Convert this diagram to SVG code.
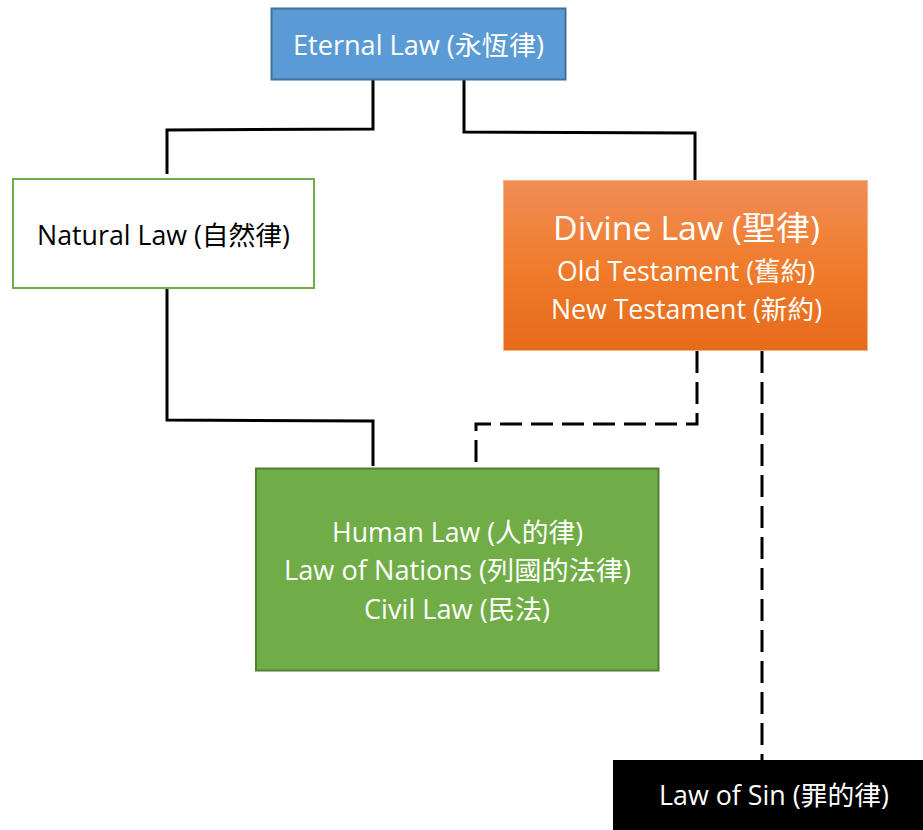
<svg xmlns="http://www.w3.org/2000/svg" width="923" height="830" viewBox="0 0 923 830">
<style>
text{font-family:"Open Sans","Noto Sans CJK TC",sans-serif;text-anchor:middle}
.w{fill:#ffffff}
.k{fill:#000000}
.s{font-size:26.5px}
.l{font-size:33.5px}
.c{fill:none;stroke:#000;stroke-width:3}
.d{stroke-dasharray:22 9}
</style>
<defs>
<linearGradient id="og" x1="0" y1="0" x2="0" y2="1">
<stop offset="0" stop-color="#F18D56"/>
<stop offset="0.5" stop-color="#F07C2C"/>
<stop offset="1" stop-color="#E56B1B"/>
</linearGradient>
</defs>
<g id="connectors">
<polyline class="c" points="373,80 373,129 167,130 167,174"/>
<polyline class="c" points="464,80 464,132 695,133 695,181"/>
<polyline class="c" points="167,288 167,420 373,421 373,466"/>
<polyline class="c d" points="697,351 697,424 476,424 476,468"/>
<polyline class="c d" points="762,351 762,760"/>
</g>
<g id="eternal">
<rect x="271.5" y="8.5" width="294" height="71" fill="#5B9BD5" stroke="#41719C" stroke-width="2"/>
<text class="w s" x="418.5" y="54.5" textLength="251" lengthAdjust="spacingAndGlyphs">Eternal Law (永恆律)</text>
</g>
<g id="natural">
<rect x="13" y="179" width="301" height="109" fill="#ffffff" stroke="#70AD47" stroke-width="2"/>
<text class="k s" x="163.5" y="244.5" textLength="253" lengthAdjust="spacingAndGlyphs">Natural Law (自然律)</text>
</g>
<g id="divine">
<rect x="503.5" y="180.5" width="364" height="170" fill="url(#og)" stroke="#F4B183" stroke-width="1"/>
<text class="w l" x="686.5" y="240" textLength="267" lengthAdjust="spacingAndGlyphs">Divine Law (聖律)</text>
<text class="w s" x="686" y="280.5" textLength="258" lengthAdjust="spacingAndGlyphs">Old Testament (舊約)</text>
<text class="w s" x="686.5" y="318.5" textLength="271" lengthAdjust="spacingAndGlyphs">New Testament (新約)</text>
</g>
<g id="human">
<rect x="256" y="468.5" width="402.5" height="202" fill="#70AD47" stroke="#507E32" stroke-width="2"/>
<text class="w s" x="457.5" y="541.5" textLength="251" lengthAdjust="spacingAndGlyphs">Human Law (人的律)</text>
<text class="w s" x="457.5" y="579.5" textLength="347" lengthAdjust="spacingAndGlyphs">Law of Nations (列國的法律)</text>
<text class="w s" x="457" y="618.5" textLength="186" lengthAdjust="spacingAndGlyphs">Civil Law (民法)</text>
</g>
<g id="sin">
<rect x="613" y="760" width="312" height="72" fill="#000000"/>
<text class="w s" x="774" y="805" textLength="230" lengthAdjust="spacingAndGlyphs">Law of Sin (罪的律)</text>
</g>
</svg>
